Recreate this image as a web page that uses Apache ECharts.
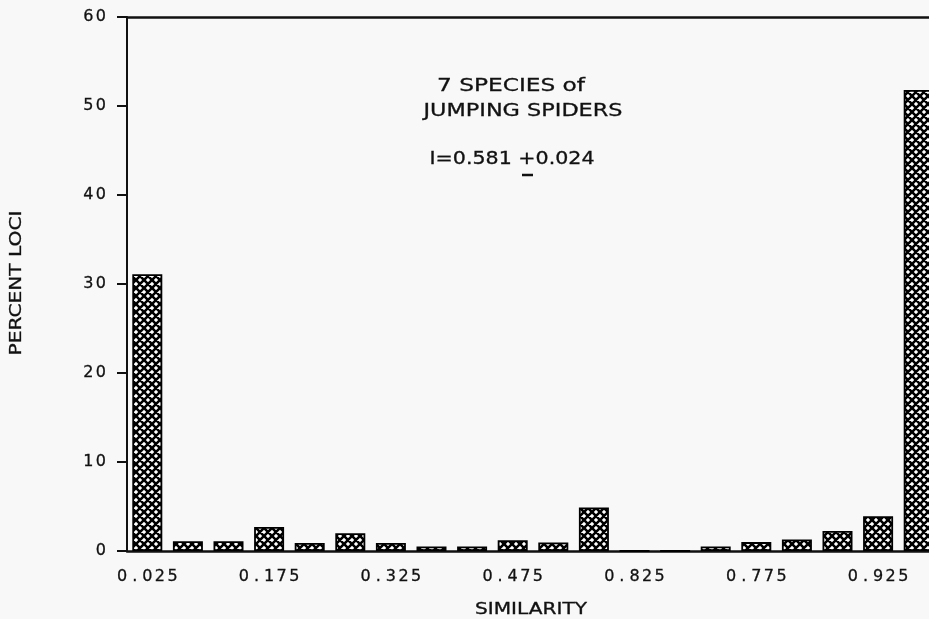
<!DOCTYPE html>
<html><head><meta charset="utf-8">
<script src="https://cdn.jsdelivr.net/npm/echarts@6/dist/echarts.min.js"></script>
<style>html,body{margin:0;padding:0;background:#f8f8f8}#c{width:929px;height:619px}</style>
</head><body><div id="c"></div>
<script>
var categories = ['0.025','0.075','0.125','0.175','0.225','0.275','0.325','0.375','0.425','0.475','0.525','0.575','0.625','0.675','0.725','0.775','0.825','0.875','0.925','0.975'];
var percentLoci = [31.1,1.1,1.1,2.7,0.9,2.0,0.9,0.5,0.5,1.2,0.95,4.9,0,0,0.5,1.0,1.3,2.25,3.9,51.8];
var tickLabels = ['0.025','0.175','0.325','0.475','0.825','0.775','0.925'];
var yTicks = [0,10,20,30,40,50,60];
var xTitle = 'SIMILARITY';
var yTitle = 'PERCENT LOCI';
var noteLines = ['7 SPECIES of','JUMPING SPIDERS','I=0.581 +0.024'];

var FONT='"DejaVu Sans", sans-serif';
function hatch(){
  var c=document.createElement('canvas');c.width=8;c.height=8;
  var g=c.getContext('2d');
  g.fillStyle='#ffffff';g.fillRect(0,0,8,8);
  g.strokeStyle='#000';g.lineWidth=2.6;
  g.beginPath();
  g.moveTo(-2,-2);g.lineTo(10,10);
  g.moveTo(-2,6);g.lineTo(2,10);
  g.moveTo(6,-2);g.lineTo(10,2);
  g.moveTo(10,-2);g.lineTo(-2,10);
  g.moveTo(2,-2);g.lineTo(-2,2);
  g.moveTo(10,6);g.lineTo(6,10);
  g.stroke();
  return c;
}
var mctx=document.createElement('canvas').getContext('2d');
function fitText(str,cx,cy,targetW,size,rot){
  var f=size+'px '+FONT;
  mctx.font=f;
  var w=mctx.measureText(str).width;
  return {type:'text',x:cx,y:cy,rotation:rot||0,scaleX:targetW/w,
    style:{text:str,font:f,fill:'#111',stroke:'#111',lineWidth:0.3,align:'center',verticalAlign:'middle'}};
}
function spaced(s,key){
  return s.split('').map(function(ch){return '{'+key+'|'+ch+'}';}).join('');
}
var rich={
  x:{width:12.6,align:'center',fontFamily:FONT,fontSize:16,color:'#111',textBorderColor:'#111',textBorderWidth:0.3},
  y:{width:12.5,align:'center',fontFamily:FONT,fontSize:16,color:'#111',textBorderColor:'#111',textBorderWidth:0.3}
};

var chart=echarts.init(document.getElementById('c'),null,{renderer:'canvas'});
chart.setOption({
  backgroundColor:'#f8f8f8',
  animation:false,
  grid:{left:127,top:17,width:812,bottom:68,outerBoundsMode:'none',containLabel:false},
  xAxis:[{type:'category',data:categories,boundaryGap:true,
    axisLine:{lineStyle:{color:'#111',width:2.5}},
    axisTick:{alignWithLabel:true,interval:0,length:6,lineStyle:{color:'#111',width:1.5}},
    axisLabel:{interval:0,margin:18,fontFamily:FONT,fontSize:16,color:'#111',rich:rich,
      formatter:function(v,i){return i%3===0?spaced(tickLabels[i/3],'x'):'';}},
    splitLine:{show:false}},
    {type:'category',data:categories,position:'top',
    axisLine:{show:true,lineStyle:{color:'#111',width:2.5}},
    axisTick:{show:false},axisLabel:{show:false},splitLine:{show:false}}],
  yAxis:{type:'value',min:yTicks[0],max:yTicks[yTicks.length-1],interval:10,
    axisLine:{show:true,lineStyle:{color:'#111',width:2}},
    axisTick:{show:true,length:10,lineStyle:{color:'#111',width:2}},
    axisLabel:{margin:20,fontFamily:FONT,fontSize:16,color:'#111',rich:rich,formatter:function(v){return spaced(String(v),'y');}},
    splitLine:{show:false}},
  series:[{type:'bar',data:percentLoci,barWidth:30,xAxisIndex:0,
    itemStyle:{color:{image:hatch(),repeat:'repeat'},borderColor:'#000',borderWidth:1.8}}],
  graphic:[
    fitText(xTitle,531,610,112,15),
    fitText(yTitle,17.5,283,145,15,Math.PI/2),
    fitText(noteLines[0],511,87,148,17),
    fitText(noteLines[1],523,112,199,17),
    fitText(noteLines[2],512,160,165,17),
    {type:'line',shape:{x1:522,y1:175,x2:533,y2:175},style:{stroke:'#111',lineWidth:2.5}}
  ]
});
</script></body></html>
